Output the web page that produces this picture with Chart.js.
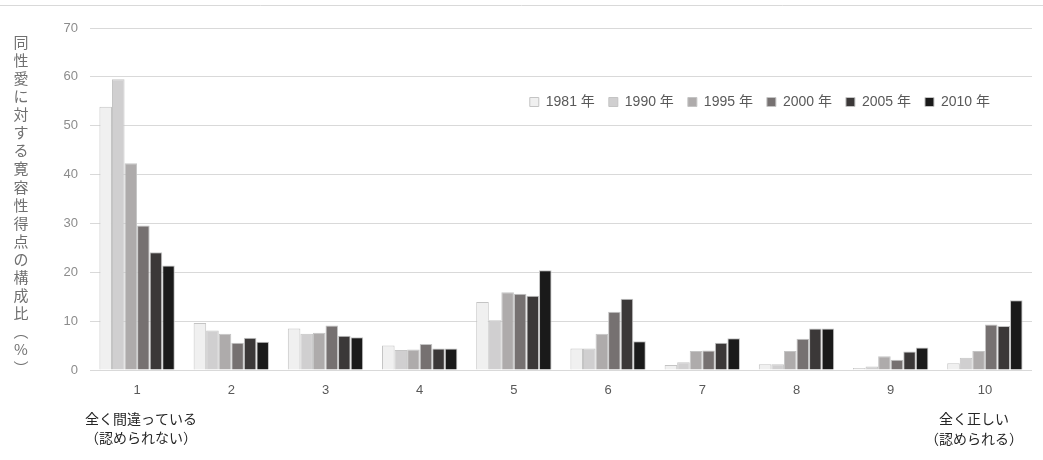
<!DOCTYPE html>
<html>
<head>
<meta charset="utf-8">
<script src="https://cdn.jsdelivr.net/npm/chart.js@4.4.0/dist/chart.umd.min.js"></script>
<style>
  body { margin: 0; background: #fff; }
  #wrap { width: 1043px; height: 460px; position: relative; }
</style>
</head>
<body>
<div id="wrap"><canvas id="myChart"></canvas></div>
<script>
// 得点 1..10
const categories = ["1", "2", "3", "4", "5", "6", "7", "8", "9", "10"];
const seriesNames = ["1981 年", "1990 年", "1995 年", "2000 年", "2005 年", "2010 年"];
const y1981 = [53.9, 9.6, 8.5, 5.0, 13.9, 4.4, 1.0, 1.2, 0.4, 1.4];
const y1990 = [59.5, 8.1, 7.4, 4.1, 10.2, 4.4, 1.6, 1.2, 0.7, 2.5];
const y1995 = [42.3, 7.4, 7.6, 4.2, 15.9, 7.4, 3.9, 3.9, 2.8, 3.9];
const y2000 = [29.6, 5.6, 9.1, 5.3, 15.6, 11.9, 4.0, 6.4, 2.1, 9.3];
const y2005 = [24.1, 6.6, 7.0, 4.4, 15.2, 14.6, 5.6, 8.5, 3.8, 9.0];
const y2010 = [21.4, 5.8, 6.7, 4.4, 20.4, 5.9, 6.5, 8.5, 4.6, 14.3];
const yTitle = "同性愛に対する寛容性得点の構成比︵%︶";
const leftNote = ["全く間違っている", "（認められない）"];
const rightNote = ["全く正しい", "（認められる）"];

const colores = ["#f0f0f0", "#d0cfd0", "#aeabab", "#767171", "#3b3838", "#1a1a1a"];
const fuente = "'Liberation Sans', 'Noto Sans CJK JP', sans-serif";
const fuenteJP = "'Noto Sans CJK JP', sans-serif";

const valores = [y1981, y1990, y1995, y2000, y2005, y2010];
const datasets = valores.map((v, i) => ({
  label: seriesNames[i],
  data: v,
  backgroundColor: colores[i],
  borderColor: "#c4c4c4",
  borderWidth: 1,
  barPercentage: 1,
  categoryPercentage: 0.8,
}));

// leyenda arriba pero sin reservar lugar, y despues la muevo adentro del grafico
const extras = {
  id: "extras",
  beforeLayout(chart) {
    const l = chart.legend;
    if (l && !l._sinAlto) {
      const fitOrig = l.fit.bind(l);
      l.fit = function () {
        fitOrig();
        this._altoReal = this.height;
        this.height = 0;
      };
      l._sinAlto = true;
    }
  },
  afterLayout(chart) {
    const l = chart.legend;
    l.top = 81;
    l.bottom = l.top + l._altoReal;
    l.right = 1004;
  },
  afterDraw(chart) {
    const ctx = chart.ctx;
    ctx.save();
    ctx.strokeStyle = "#d9d9d9";
    ctx.lineWidth = 1;
    ctx.beginPath();
    ctx.moveTo(0, 5.5);
    ctx.lineTo(1043, 5.5);
    ctx.stroke();

    ctx.fillStyle = "#707070";
    ctx.font = "15px " + fuenteJP;
    ctx.textAlign = "center";
    ctx.textBaseline = "middle";
    const chars = Array.from(yTitle);
    chars.forEach((c, i) => {
      ctx.fillText(c, 21, 42 + i * 18.1);
    });

    const x = chart.scales.x;
    ctx.fillStyle = "#262626";
    ctx.font = "14px " + fuenteJP;
    const x1 = x.getPixelForValue(0) + 4;
    const x10 = x.getPixelForValue(9) - 11;
    ctx.fillText(leftNote[0], x1, 419);
    ctx.fillText(leftNote[1], x1, 438);
    ctx.fillText(rightNote[0], x10, 419);
    ctx.fillText(rightNote[1], x10, 439);
    ctx.restore();
  },
};

var ctx = document.getElementById("myChart");
window.myChart = new Chart(ctx, {
  type: "bar",
  data: { labels: categories, datasets: datasets },
  plugins: [extras],
  options: {
    responsive: true,
    maintainAspectRatio: false,
    animation: false,
    layout: { padding: { left: 50, right: 11, top: 28, bottom: 0 } },
    plugins: {
      tooltip: { enabled: false },
      legend: {
        position: "top",
        align: "end",
        labels: {
          boxWidth: 9,
          boxHeight: 9,
          padding: 14,
          color: "#595959",
          font: { family: fuente, size: 14 },
        },
      },
    },
    scales: {
      x: {
        grid: { display: false },
        border: { display: false },
        ticks: { color: "#595959", font: { family: fuente, size: 13 }, padding: 5 },
        afterFit(scale) { scale.height = 90; },
      },
      y: {
        min: 0,
        max: 70,
        ticks: { stepSize: 10, color: "#8c8c8c", font: { family: fuente, size: 13 }, padding: 12 },
        grid: { color: "#d9d9d9", drawTicks: false },
        border: { display: false },
        afterFit(scale) { scale.width = 40; },
      },
    },
  },
});
</script>
</body>
</html>
